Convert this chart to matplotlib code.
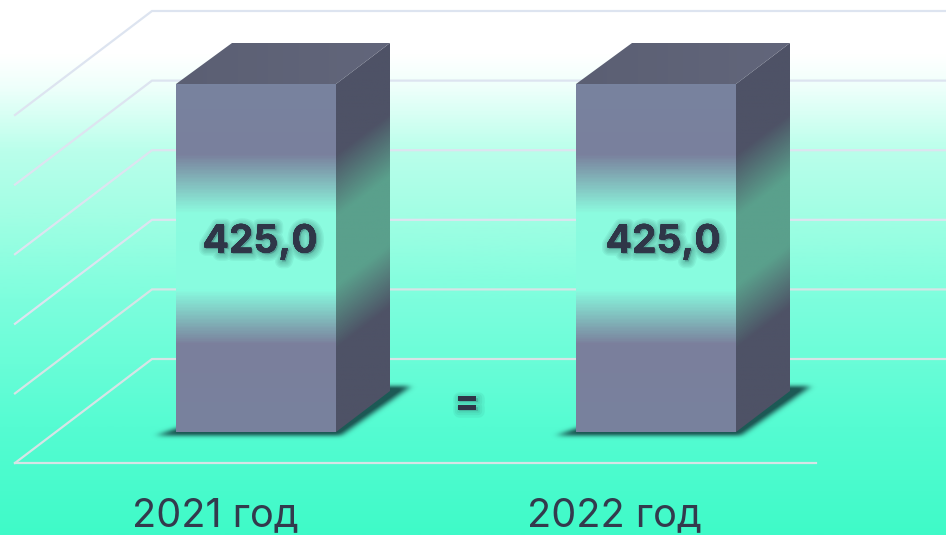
import numpy as np
import matplotlib
matplotlib.use('Agg')
import matplotlib.pyplot as plt
import matplotlib.patheffects as pe
from matplotlib.colors import LinearSegmentedColormap
from matplotlib.patches import Polygon
from matplotlib.path import Path

plt.rcParams['font.family'] = ['Inter', 'Open Sans', 'DejaVu Sans']

categories = ['2021 год', '2022 год']
values = [425.0, 425.0]
value_labels = ['425,0', '425,0']
grid_levels = [0, 85, 170, 255, 340, 425]

W, H = 946, 535
unit = 348 / 425          # px per value unit
y_bottom = -(H - 432) / unit
y_top = 432 / unit
depth_x = 54
depth_y = 41 / unit
bar_left = [176, 576]
bar_w = 160
label_x = [260, 663]
cat_x = [215, 614.5]
floor_y = -31 / unit      # front edge of the floor
grid_dx = 137
grid_dy = 104 / unit

bg_cmap = LinearSegmentedColormap.from_list('bg', [
    (0.0, '#ffffff'), (0.10, '#ffffff'), (0.16, '#effffb'), (0.28, '#baffeb'),
    (0.40, '#a2fee4'), (0.56, '#7dfedd'), (0.80, '#55fcd2'), (1.0, '#3ffac8')])
front_cmap = LinearSegmentedColormap.from_list('front', [
    (0.0, '#78839f'), (0.20, '#7a809d'), (0.37, '#8cfbdf'),
    (0.59, '#88fde0'), (0.75, '#7b7f9c'), (1.0, '#78829e')])
side_cmap = LinearSegmentedColormap.from_list('side', [
    (0.0, '#4e5266'), (0.20, '#4e5266'), (0.38, '#5aa08c'),
    (0.58, '#5aa08c'), (0.76, '#4e5266'), (1.0, '#4e5266')])
top_cmap = LinearSegmentedColormap.from_list('top', ['#5b5f73', '#62667b'])

fig = plt.figure(figsize=(W / 100, H / 100), dpi=100)
ax = fig.add_axes([0, 0, 1, 1])

# background
ax.imshow(np.linspace(0, 1, 400)[:, None], cmap=bg_cmap, aspect='auto',
          extent=(0, W, y_bottom, y_top), origin='upper', zorder=0)

# perspective grid
for level in grid_levels:
    y = floor_y + level
    c = '#d6e4e6' if level < 170 else '#dde4f0'
    ax.plot([15, 15 + grid_dx, W], [y, y + grid_dy, y + grid_dy],
            color=c, lw=1.6, zorder=1, solid_joinstyle='miter')
ax.plot([15, 816], [floor_y, floor_y], color='#d6e4e6', lw=1.6, zorder=1)


def blurred(mask, sigma):
    k = np.exp(-0.5 * (np.arange(-12, 13) / sigma) ** 2)
    k /= k.sum()
    mask = np.apply_along_axis(lambda r: np.convolve(r, k, mode='same'), 0, mask)
    return np.apply_along_axis(lambda r: np.convolve(r, k, mode='same'), 1, mask)


def soft_glow(widths):
    # layered strokes, shifted a little down and right like a drop shadow
    return [pe.withStroke(linewidth=w, foreground='#1f5a55', alpha=0.07, offset=(1, -1))
            for w in widths] + [pe.Normal()]


for i, (left, val, cat, lab) in enumerate(zip(bar_left, values, categories, value_labels)):
    right = left + bar_w

    # shadow on the floor
    xs = np.arange(left - 40, right + 100)
    ys = np.linspace(60, -20, 110)
    gx, gy = np.meshgrid(xs, ys)
    shape = Path([(left - 20, -5), (right + 4, -5), (right + 74, 55),
                  (right + 40, 55), (left + 40, 20)])
    inside = shape.contains_points(np.c_[gx.ravel(), gy.ravel()]).reshape(gx.shape)
    alpha = np.clip(blurred(inside.astype(float), 3.5) * 1.15, 0, 1)
    rgba = np.zeros(gx.shape + (4,))
    rgba[..., :3] = matplotlib.colors.to_rgb('#1d5a55')
    rgba[..., 3] = alpha
    ax.imshow(rgba, aspect='auto', extent=(xs[0], xs[-1], ys[-1], ys[0]), zorder=2)

    # front face
    im = ax.imshow(np.linspace(0, 1, 348)[:, None], cmap=front_cmap, aspect='auto',
                   extent=(left, right, 0, val), zorder=3)
    im.set_clip_path(Polygon([(left, 0), (right, 0), (right, val), (left, val)],
                             transform=ax.transData))

    # side face, gradient skewed along the depth
    sx = np.linspace(0, 1, 54)
    sy = np.linspace(val + depth_y, 0, 400)
    mx, my = np.meshgrid(sx, sy)
    frac = np.clip(1 - (my - mx * depth_y) / val, 0, 1)
    im = ax.imshow(side_cmap(frac), aspect='auto',
                   extent=(right, right + depth_x, 0, val + depth_y), zorder=3)
    im.set_clip_path(Polygon([(right, 0), (right + depth_x, depth_y),
                              (right + depth_x, val + depth_y), (right, val)],
                             transform=ax.transData))

    # top face
    im = ax.imshow(np.linspace(0, 1, 200)[None, :], cmap=top_cmap, aspect='auto',
                   extent=(left, right + depth_x, val, val + depth_y), zorder=3)
    im.set_clip_path(Polygon([(left, val), (right, val), (right + depth_x, val + depth_y),
                              (left + depth_x + 2, val + depth_y)],
                             transform=ax.transData))

    ax.text(label_x[i], val * 0.546, lab, ha='center', va='center',
            fontsize=28, fontweight='bold', color='#2f3648',
            path_effects=soft_glow((10, 8, 6, 4, 2)), zorder=5)

    ax.text(cat_x[i], -102, cat, ha='center', va='center',
            fontsize=28.5, fontweight='normal', color='#333a4d', zorder=5)

ax.text(467, -(404 - 432) / unit, '=', ha='center', va='center', fontsize=27,
        fontweight='bold', color='#2f3648', zorder=5,
        path_effects=soft_glow((9, 6, 3)))

ax.set_xlim(0, W)
ax.set_ylim(y_bottom, y_top)
ax.axis('off')
fig.savefig('out.png', dpi=100)
